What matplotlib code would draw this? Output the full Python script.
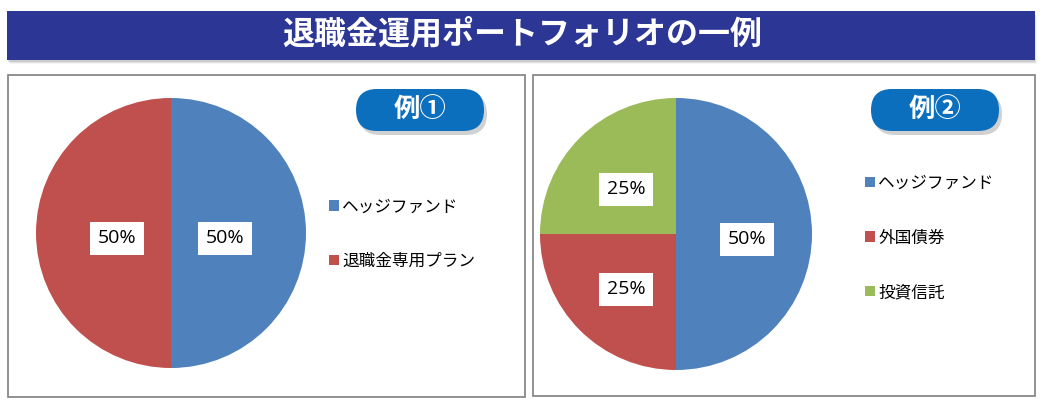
# ==== IMPORT ================================================================ #

import matplotlib
matplotlib.use("Agg")

import matplotlib.pyplot  as plt
from matplotlib.patches  import Rectangle, FancyBboxPatch, Patch

plt.rcParams['font.family'] = ['Noto Sans CJK JP', 'DejaVu Sans']

# ==== DATA ================================================================== #

title       = "退職金運用ポートフォリオの一例"

labels_1    = ["ヘッジファンド", "退職金専用プラン"]
values_1    = [50, 50]
badge_1     = "例①"

labels_2    = ["ヘッジファンド", "外国債券", "投資信託"]
values_2    = [50, 25, 25]
badge_2     = "例②"

colors      = ["#4F81BD", "#C0504D", "#9BBB59"]

# ==== HELPERS =============================================================== #

W, H = 1043, 409


def fx(px):
    return px / W


def fy(py):
    return 1 - py / H


def draw_pie(fig, cx, cy, r, values, pctdist):

    ax = fig.add_axes([fx(cx - r), fy(cy + r), 2 * r / W, 2 * r / H])
    wedges, texts, autotexts = ax.pie(
        values, colors = colors[:len(values)], startangle = 90,
        counterclock = False, autopct = "%d%%", pctdistance = pctdist,
        wedgeprops = dict(linewidth = 0))
    ax.set_xlim(-1, 1)
    ax.set_ylim(-1, 1)
    for t in autotexts:
        x, y = t.get_position()
        t.set_position((x, y - 0.04))
        t.set_fontsize(14)
        t.set_family(['Open Sans', 'DejaVu Sans'])
        t.set_color('black')
        t.set_bbox(dict(facecolor = 'white', edgecolor = 'none',
                        boxstyle = 'square,pad=0.4'))
    return ax


def draw_badge(bg, cx, cy, text):

    w, h = 128, 42
    shadow = FancyBboxPatch((cx - w / 2 + 3, cy - h / 2 + 4), w, h,
                            boxstyle = "round,pad=0,rounding_size=21",
                            facecolor = '#9a9a9a', edgecolor = 'none',
                            alpha = 0.45, zorder = 2)
    badge  = FancyBboxPatch((cx - w / 2, cy - h / 2), w, h,
                            boxstyle = "round,pad=0,rounding_size=21",
                            facecolor = '#0B6FBE', edgecolor = 'none',
                            zorder = 3)
    bg.add_patch(shadow)
    bg.add_patch(badge)
    bg.text(cx, cy, text, color = 'white', fontsize = 19,
            fontweight = 'bold', ha = 'center', va = 'center', zorder = 4)


def draw_legend(fig, labels, x, y):

    handles = [Patch(facecolor = c, edgecolor = 'none')
               for c in colors[:len(labels)]]
    fig.legend(handles, labels, loc = 'center left',
               bbox_to_anchor = (fx(x), fy(y)), frameon = False,
               fontsize = 12, handlelength = 0.6, handleheight = 0.6,
               handletextpad = 0.2, labelspacing = 2.25,
               borderpad = 0, borderaxespad = 0)

# ==== MAIN ================================================================== #

def main():

    fig = plt.figure(figsize = (W / 100, H / 100), dpi = 100)
    fig.patch.set_facecolor('white')

    bg = fig.add_axes([0, 0, 1, 1])
    bg.set_xlim(0, W)
    bg.set_ylim(H, 0)
    bg.axis('off')

    # title banner with a soft shadow
    for i, a in enumerate([0.10, 0.07, 0.04]):
        bg.add_patch(Rectangle((8 + i, 12 + 2 + i), 1027, 48,
                               facecolor = 'black', alpha = a,
                               edgecolor = 'none', zorder = 1))
    bg.add_patch(Rectangle((7, 11), 1028, 49, facecolor = '#2C3695',
                           edgecolor = 'none', zorder = 2))
    bg.text(522, 35, title, color = 'white', fontsize = 23,
            fontweight = 'bold', ha = 'center', va = 'center', zorder = 3)

    # panel frames
    bg.add_patch(Rectangle((8, 75), 517, 322, facecolor = 'white',
                           edgecolor = '#7f7f7f', linewidth = 1.2))
    bg.add_patch(Rectangle((533, 75), 502, 321, facecolor = 'white',
                           edgecolor = '#7f7f7f', linewidth = 1.2))

    draw_badge(bg, 420, 110, badge_1)
    draw_badge(bg, 935, 110, badge_2)

    draw_pie(fig, 171, 233, 135, values_1, 0.40)
    draw_pie(fig, 676, 234, 136, values_2, 0.52)

    draw_legend(fig, labels_1, 329, 234)
    draw_legend(fig, labels_2, 865, 238)

    fig.savefig("out.png", dpi = 100)


if __name__ == "__main__":

    main()
